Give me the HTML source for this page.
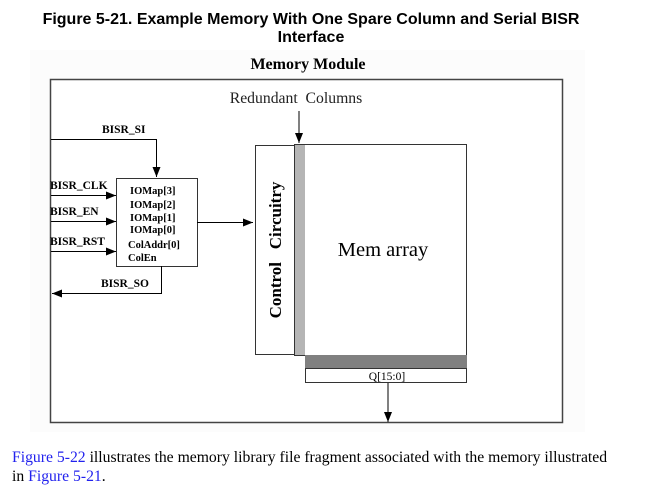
<!DOCTYPE html>
<html><head><meta charset="utf-8"><style>
html,body{margin:0;padding:0;background:#fff;width:649px;height:504px;overflow:hidden}
svg{display:block}
</style></head><body>
<svg width="649" height="504" viewBox="0 0 649 504" xmlns="http://www.w3.org/2000/svg">
<defs>
<marker id="a" markerWidth="10" markerHeight="8" refX="10" refY="4" orient="auto" markerUnits="userSpaceOnUse">
<path d="M0,0 L10,4 L0,8 Z" fill="#000"/></marker>
</defs>
<rect x="30" y="50" width="555" height="382" fill="#fcfcfc"/>
<text x="311" y="24" text-anchor="middle" font-family="Liberation Sans, sans-serif" font-weight="bold" font-size="16">Figure 5-21. Example Memory With One Spare Column and Serial BISR</text>
<text x="311" y="42" text-anchor="middle" font-family="Liberation Sans, sans-serif" font-weight="bold" font-size="16">Interface</text>
<text x="308" y="69" text-anchor="middle" font-family="Liberation Serif, serif" font-weight="bold" font-size="16">Memory Module</text>
<rect x="50.5" y="79.5" width="512" height="343" fill="#fff" stroke="#444" stroke-width="1.5"/>
<text x="296" y="103" text-anchor="middle" font-family="Liberation Serif, serif" font-size="15.7" fill="#222">Redundant&#160;&#160;Columns</text>
<line x1="299" y1="111" x2="299" y2="143" stroke="#000" marker-end="url(#a)"/>
<rect x="255.5" y="145.5" width="39" height="209" fill="#fff" stroke="#333"/>
<rect x="294.5" y="144.5" width="172" height="211" fill="#fff" stroke="#333"/>
<rect x="295" y="145" width="10" height="210" fill="#b5b5b5"/>
<text transform="translate(281,250) rotate(-90)" text-anchor="middle" font-family="Liberation Serif, serif" font-weight="bold" font-size="17">Control&#160;&#160;&#160;Circuitry</text>
<text x="383" y="256" text-anchor="middle" font-family="Liberation Serif, serif" font-size="20.5">Mem array</text>
<rect x="305" y="355" width="162" height="13" fill="#808080"/>
<rect x="305.5" y="368.5" width="161" height="14" fill="#fff" stroke="#333"/>
<text x="387" y="380" text-anchor="middle" font-family="Liberation Serif, serif" font-size="11.5">Q[15:0]</text>
<line x1="388" y1="383" x2="388" y2="422" stroke="#000" marker-end="url(#a)"/>
<rect x="116.5" y="178.5" width="81" height="88" fill="#fff" stroke="#333"/>
<g font-family="Liberation Serif, serif" font-weight="bold" font-size="10.5">
<text x="130" y="194">IOMap[3]</text>
<text x="130" y="208">IOMap[2]</text>
<text x="130" y="221">IOMap[1]</text>
<text x="130" y="233">IOMap[0]</text>
<text x="128" y="248">ColAddr[0]</text>
<text x="128" y="261">ColEn</text>
</g>
<g font-family="Liberation Serif, serif" font-weight="bold" font-size="11.5">
<text x="102" y="133">BISR_SI</text>
<text x="50" y="189">BISR_CLK</text>
<text x="50" y="215">BISR_EN</text>
<text x="50" y="245">BISR_RST</text>
<text x="101" y="287">BISR_SO</text>
</g>
<polyline points="51,139.5 156.5,139.5 156.5,177" fill="none" stroke="#000" marker-end="url(#a)"/>
<line x1="51" y1="195.5" x2="116" y2="195.5" stroke="#000" marker-end="url(#a)"/>
<line x1="51" y1="221.5" x2="116" y2="221.5" stroke="#000" marker-end="url(#a)"/>
<line x1="51" y1="251.5" x2="116" y2="251.5" stroke="#000" marker-end="url(#a)"/>
<line x1="197" y1="222.5" x2="253" y2="222.5" stroke="#000" marker-end="url(#a)"/>
<polyline points="161.5,266 161.5,293.5 52,293.5" fill="none" stroke="#000" marker-end="url(#a)"/>
<g font-family="Liberation Serif, serif" font-size="15.7">
<text x="12" y="462"><tspan fill="#2222ee">Figure 5-22</tspan> illustrates the memory library file fragment associated with the memory illustrated</text>
<text x="12" y="481">in <tspan fill="#2222ee">Figure 5-21</tspan>.</text>
</g>
</svg>
</body></html>
